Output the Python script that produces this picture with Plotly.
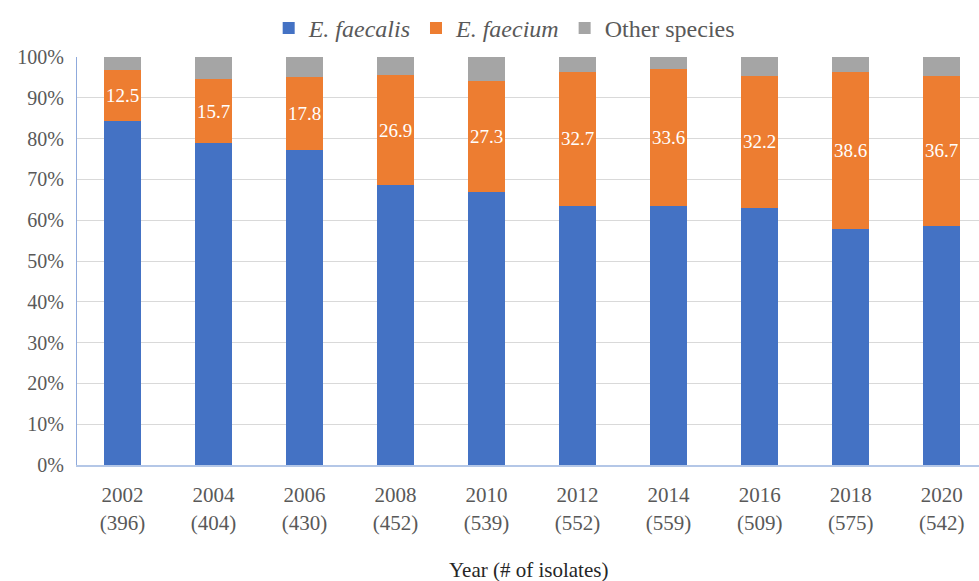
import plotly.graph_objects as go

years = ["2002", "2004", "2006", "2008", "2010", "2012", "2014", "2016", "2018", "2020"]
isolates = [396, 404, 430, 452, 539, 552, 559, 509, 575, 542]
faecalis = [84.2, 78.9, 77.3, 68.6, 66.9, 63.6, 63.4, 63.1, 57.8, 58.7]
faecium = [12.5, 15.7, 17.8, 26.9, 27.3, 32.7, 33.6, 32.2, 38.6, 36.7]
other = [3.3, 5.4, 4.9, 4.5, 5.8, 3.7, 3.0, 4.7, 3.6, 4.6]

tick_text = [f"{y}<br>({n})" for y, n in zip(years, isolates)]
xpos = list(range(len(years)))

FONT = "Liberation Serif, Times New Roman, DejaVu Serif, serif"
GREY_TXT = "#595959"
PLOT_H = 581 - 57 - 116

fig = go.Figure()
fig.add_trace(go.Bar(
    x=xpos, y=faecalis, name="<i>E. faecalis</i>",
    marker=dict(color="#4472c4", line=dict(width=0)),
))
fig.add_trace(go.Bar(
    x=xpos, y=faecium, name="<i>E. faecium</i>",
    marker=dict(color="#ed7d31", line=dict(width=0)),
    text=[f"{v:.1f}" for v in faecium],
    textposition="inside", insidetextanchor="middle", textangle=0,
    textfont=dict(color="white", size=19, family=FONT),
))
fig.add_trace(go.Bar(
    x=xpos, y=other, name="Other species",
    marker=dict(color="#a5a5a5", line=dict(width=0)),
))

fig.update_layout(
    barmode="stack",
    bargap=0.6,
    width=979, height=581,
    margin=dict(l=77, r=0, t=57, b=116),
    paper_bgcolor="white", plot_bgcolor="white",
    font=dict(family=FONT, color=GREY_TXT, size=20),
    uniformtext=dict(minsize=19, mode="show"),
    legend=dict(
        orientation="h", xref="container", yref="container",
        x=0.515, xanchor="center", y=0.99, yanchor="top",
        font=dict(size=24, color=GREY_TXT, family=FONT),
        itemsizing="constant", traceorder="normal",
    ),
    xaxis=dict(
        range=[-0.5, 9.41],
        tickmode="array", tickvals=xpos, ticktext=tick_text,
        tickfont=dict(size=21, color=GREY_TXT, family=FONT),
        showgrid=False, zeroline=False,
        showline=True, linecolor="#b4c7e7", linewidth=2,
        ticks="", ticklabelstandoff=10, automargin=False,
    ),
    yaxis=dict(
        range=[0, 100], dtick=10, ticksuffix="%",
        tickfont=dict(size=20, color=GREY_TXT, family=FONT),
        showgrid=True, gridcolor="#d9d9d9", gridwidth=1,
        zeroline=False,
        showline=True, linecolor="#8faadc", linewidth=1,
        ticks="", ticklabelstandoff=8, automargin=False,
    ),
    annotations=[dict(
        text="Year (# of isolates)", xref="paper", yref="paper",
        x=0.5, y=-105 / PLOT_H, xanchor="center", yanchor="middle", showarrow=False,
        font=dict(size=21, color="#262626", family=FONT),
    )],
)

fig.write_html("out.html")
